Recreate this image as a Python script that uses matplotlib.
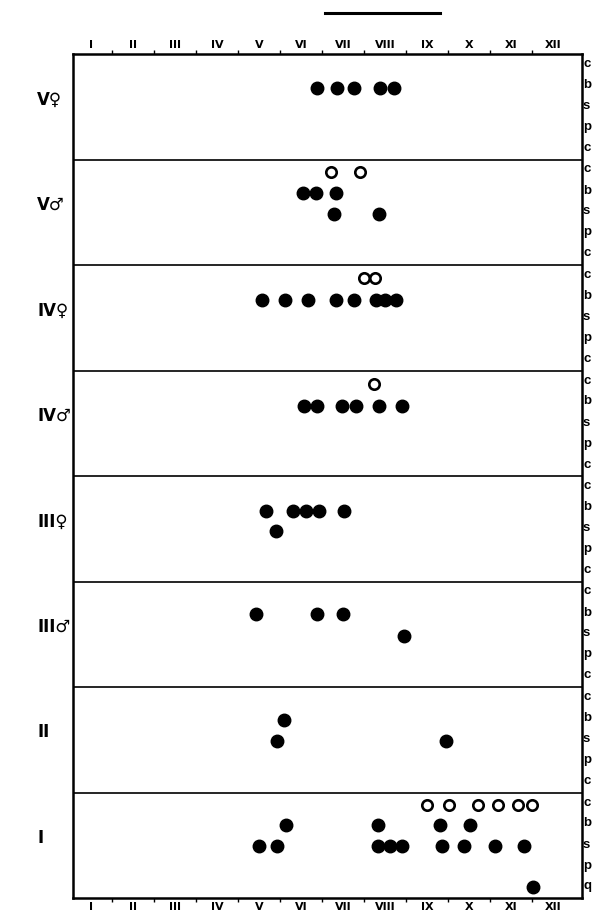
import matplotlib
matplotlib.use("Agg")
from matplotlib import pyplot as plt
from matplotlib.lines import Line2D

plt.rcParams['font.family'] = ['Liberation Sans', 'DejaVu Sans']

months = ['I', 'II', 'III', 'IV', 'V', 'VI', 'VII', 'VIII', 'IX', 'X', 'XI', 'XII']
rows = ['V\u2640', 'V\u2642', 'IV\u2640', 'IV\u2642', 'III\u2640', 'III\u2642', 'II', 'I']

# x in months (0 = start of January), y = height inside the panel (0 bottom, 1 top)
filled = {
    'V\u2640': ([5.88, 6.36, 6.76, 7.38, 7.71], [0.68] * 5),
    'V\u2642': ([5.55, 5.86, 6.33, 6.29, 7.36], [0.68, 0.68, 0.68, 0.48, 0.48]),
    'IV\u2640': ([4.57, 5.12, 5.67, 6.33, 6.76, 7.29, 7.50, 7.76], [0.67] * 8),
    'IV\u2642': ([5.57, 5.88, 6.48, 6.81, 7.36, 7.90], [0.66] * 6),
    'III\u2640': ([4.67, 5.31, 5.62, 5.93, 6.52, 4.90], [0.67] * 5 + [0.48]),
    'III\u2642': ([4.43, 5.88, 6.50, 7.95], [0.69, 0.69, 0.69, 0.48]),
    'II': ([5.10, 4.93, 8.95], [0.69, 0.49, 0.49]),
    'I': ([5.14, 7.33, 8.81, 9.52,
           4.50, 4.93, 7.33, 7.62, 7.90, 8.86, 9.38, 10.12, 10.81,
           11.02],
          [0.69] * 4 + [0.49] * 9 + [0.10]),
}
hollow = {
    'V\u2642': ([6.21, 6.90], [0.88, 0.88]),
    'IV\u2640': ([7.00, 7.26], [0.88, 0.88]),
    'IV\u2642': ([7.24], [0.87]),
    'I': ([8.50, 9.02, 9.71, 10.19, 10.67, 11.00], [0.88] * 6),
}
side_letters = ['c', 'b', 's', 'p', 'c']

fig = plt.figure(figsize=(5.92, 9.18), dpi=100)
ax = fig.add_axes([73 / 592, 1 - 898 / 918, 509 / 592, 844 / 918])
n = len(rows)
ax.set_xlim(0.07, 12.19)
ax.set_ylim(0, n)

for i, name in enumerate(rows):
    base = n - 1 - i
    if name in filled:
        xs, ys = filled[name]
        ax.plot(xs, [base + y for y in ys], 'o', color='black', ms=9, ls='none')
    if name in hollow:
        xs, ys = hollow[name]
        ax.plot(xs, [base + y for y in ys], 'o', mfc='white', mec='black',
                mew=1.9, ms=7.5, ls='none')
    if base > 0:
        ax.axhline(base, color='black', lw=1.2)
    # row label on the left
    ax.text(-0.07, base + 0.57, name, transform=ax.get_yaxis_transform(),
            ha='left', va='center', fontsize=12, fontweight='bold',
            family=['DejaVu Sans'])
    # letters along the right edge
    letters = side_letters if name != 'I' else ['c', 'b', 's', 'p', 'q']
    for k, ch in enumerate(letters):
        ax.text(583 / 592, base + 1 - (10 + 21 * k) / 105.5, ch,
                transform=ax.get_yaxis_transform().__class__(fig.transFigure, ax.transData),
                ha='left', va='center', fontsize=9.5, fontweight='bold',
                clip_on=False)

for s in ax.spines.values():
    s.set_linewidth(1.8)

ax.set_yticks([])
ax.set_xticks(range(1, 12))
ax.set_xticklabels([])
ax.set_xticks([m + 0.5 for m in range(12)], minor=True)
ax.set_xticklabels(months, minor=True, fontsize=8, fontweight='bold',
                   family=['DejaVu Sans'])
ax.tick_params(which='major', direction='out', length=3, width=1,
               top=True, bottom=True)
ax.tick_params(which='minor', length=0, top=True, bottom=True,
               labeltop=True, labelbottom=True, pad=3)

# short bar above the chart
fig.add_artist(Line2D([325 / 592, 440 / 592], [1 - 13 / 918, 1 - 13 / 918],
                      color='black', lw=2.2))

fig.savefig('out.png', dpi=100)
